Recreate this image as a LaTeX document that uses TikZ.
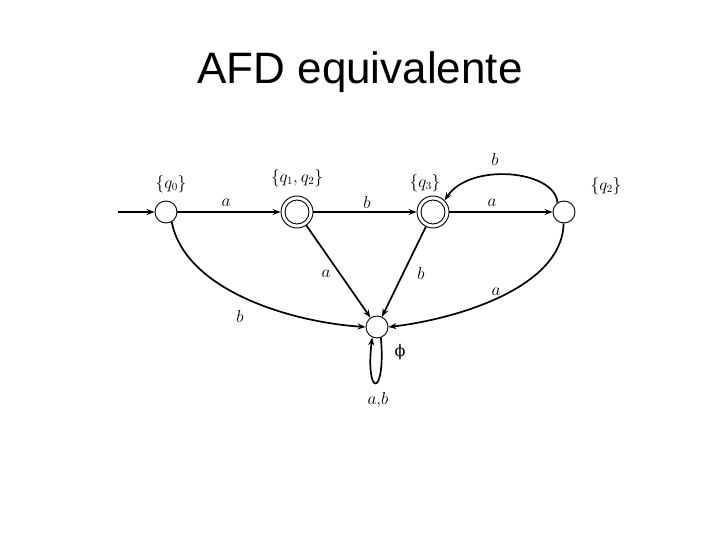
\documentclass[tikz,border=0pt]{standalone}
\usepackage{fontspec}
\setsansfont{Liberation Sans}
\newfontfamily\phifont{DejaVu Serif}
\usetikzlibrary{arrows.meta}
\tikzset{
  state/.style={draw, circle, line width=0.9pt, minimum size=22pt, inner sep=0pt},
  accstate/.style={draw, circle, line width=0.9pt, minimum size=32pt, inner sep=0pt},
  edge/.style={line width=1.7pt, -{Stealth[length=8pt,width=6pt]}},
  lbl/.style={inner sep=0pt, font=\fontsize{16}{19}\selectfont},
}
\begin{document}
\begin{tikzpicture}[x=1pt,y=-1pt]
\useasboundingbox (0,0) rectangle (720,540);
\node[anchor=base, font=\sffamily\fontsize{44}{50}\selectfont] (title) at (360,84) {AFD equivalente};

\node[state] (q0) at (166,212) {};
\node[accstate] (q12) at (297,212) {};
\draw[line width=0.9pt] (q12.center) circle (12pt);
\node[accstate] (q3) at (433,212) {};
\draw[line width=0.9pt] (q3.center) circle (12pt);
\node[state] (q2) at (564,212) {};
\node[state] (phi) at (377,327) {};
\coordinate (start) at (118,212);

\node[lbl] (l0) at (171,184) {$\{q_0\}$};
\node[lbl] (l12) at (297,178) {$\{q_1,q_2\}$};
\node[lbl] (l3) at (425,183) {$\{q_3\}$};
\node[lbl] (l2) at (606,186) {$\{q_2\}$};
\node[lbl] (lphi) at (400,352) {\phifont ϕ};

\draw[edge] (start) -- (q0);
\draw[edge] (q0) -- (q12);
\draw[edge] (q12) -- (q3);
\draw[edge] (q3) -- (q2);
\draw[edge] (q12) -- (phi);
\draw[edge] (q3) -- (phi);
\draw[edge] (q2.125) .. controls (555,170) and (470,162) .. (q3.45);
\draw[edge] (q0.-60) .. controls (185,290) and (290,322) .. (phi.west);
\draw[edge] (q2.-92) .. controls (562,290) and (450,320) .. (phi.east);
\draw[edge] (phi.-70) .. controls (386,398) and (365,398) .. (phi.-115);

\node[lbl] (e1) at (226,203) {$a$};
\node[lbl] (e2) at (367,203) {$b$};
\node[lbl] (e3) at (495,160) {$b$};
\node[lbl] (e4) at (492,203) {$a$};
\node[lbl] (e5) at (326,274) {$a$};
\node[lbl] (e6) at (421,273) {$b$};
\node[lbl] (e7) at (496,292) {$a$};
\node[lbl] (e8) at (240,316) {$b$};
\node[lbl] (e9) at (378,400) {$a{,}b$};
\end{tikzpicture}
\end{document}
